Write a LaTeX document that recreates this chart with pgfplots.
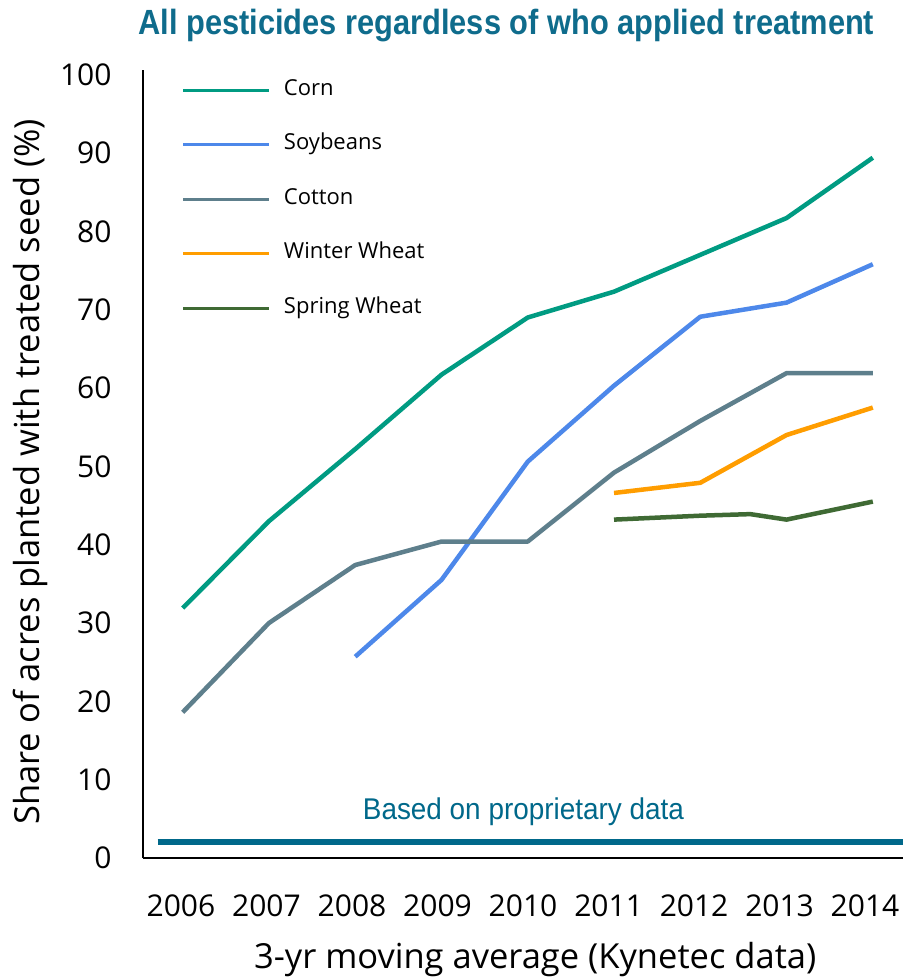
\documentclass[border=0pt]{standalone}
\usepackage{fontspec}
\setmainfont{Open Sans}
\newfontfamily\headfont{Liberation Sans}[FakeStretch=0.88]
\newfontfamily\notefont{Liberation Sans}[FakeStretch=0.93]
\usepackage{pgfplots}
\pgfplotsset{compat=1.18}

\definecolor{corncol}{HTML}{009B82}
\definecolor{soycol}{HTML}{4D88EA}
\definecolor{cottoncol}{HTML}{5E7F8C}
\definecolor{wintercol}{HTML}{FF9D00}
\definecolor{springcol}{HTML}{3F6A34}
\definecolor{basecol}{HTML}{00688A}
\definecolor{titlecol}{HTML}{0F6C8C}

\begin{document}
\begin{tikzpicture}
\begin{axis}[
  scale only axis,
  width=760pt, height=788pt,
  xmin=2005.54, xmax=2014.35,
  ymin=0, ymax=100.6,
  clip=false,
  axis x line*=bottom, axis y line*=left,
  axis line style={line width=1.6pt, black},
  % year labels sit on a slightly tighter pitch than the data points
  xtick={2005.98,2006.971,2007.963,2008.954,2009.945,2010.937,2011.928,2012.919,2013.910},
  xticklabels={2006,2007,2008,2009,2010,2011,2012,2013,2014},
  ytick={0,10,...,100},
  major tick length=0pt,
  /pgf/number format/assume math mode=true,
  tick label style={font=\fontsize{30}{30}\selectfont, black},
  xticklabel style={yshift=-33pt},
  yticklabel style={xshift=-28pt},
  xlabel={3-yr moving average (Kynetec data)},
  xlabel style={at={(axis description cs:0.516,0)}, anchor=center, yshift=-102pt,
                font=\fontsize{34.5}{34.5}\selectfont},
  ylabel={Share of acres planted with treated seed (\%)},
  ylabel style={at={(axis description cs:-0.1487,0.49)}, anchor=center,
                font=\fontsize{34.5}{34.5}\selectfont},
  legend cell align=left,
  legend style={at={(rel axis cs:0.0513,0.988)}, anchor=north west,
                draw=none, fill=none, inner sep=0pt, outer sep=0pt,
                font=\fontsize{22}{22}\selectfont,
                nodes={inner sep=0pt, text height=16pt, text depth=6pt},
                row sep=32.5pt, column sep=13pt},
  legend image code/.code={\draw[#1, line width=3pt] (0pt,0pt) -- (86pt,0pt);},
  every axis plot/.append style={line width=4.5pt, line join=round},
]
\coordinate (bl) at (rel axis cs:0,0);
\coordinate (tr) at (rel axis cs:1,1);

\addplot[corncol] coordinates {
  (2006,31.9) (2007,43.0) (2008,52.2) (2009,61.7) (2010,69.0)
  (2011,72.3) (2012,77.0) (2013,81.7) (2014,89.4)};
\addlegendentry{Corn}

\addplot[soycol] coordinates {
  (2008,25.7) (2009,35.5) (2010,50.6) (2011,60.3) (2012,69.1)
  (2013,70.9) (2014,75.8)};
\addlegendentry{Soybeans}

\addplot[cottoncol] coordinates {
  (2006,18.6) (2007,30.0) (2008,37.4) (2009,40.4) (2010,40.4)
  (2011,49.2) (2012,55.8) (2013,61.9) (2014,61.9)};
\addlegendentry{Cotton}

\addplot[wintercol] coordinates {
  (2011,46.6) (2012,47.9) (2013,54.0) (2014,57.5)};
\addlegendentry{Winter Wheat}

\addplot[springcol] coordinates {
  (2011,43.2) (2012,43.7) (2012.58,43.9) (2013,43.2) (2014,45.5)};
\addlegendentry{Spring Wheat}

% band marking the proprietary-data range
\addplot[forget plot, basecol, line width=6pt, line join=miter] coordinates {
  (2005.71,2.0) (2014.35,2.0)};
\node[font=\notefont\fontsize{30}{30}\selectfont, text=basecol]
  at (axis cs:2009.95,5.9) {Based on proprietary data};

\node[font=\headfont\bfseries\fontsize{35}{35}\selectfont, text=titlecol]
  at ([yshift=44pt]rel axis cs:0.478,1) {All pesticides regardless of who applied treatment};
\end{axis}
\pgfresetboundingbox
\path ([shift={(-143pt,-121pt)}]bl) rectangle ([shift={(0pt,70pt)}]tr);
\end{tikzpicture}
\end{document}
